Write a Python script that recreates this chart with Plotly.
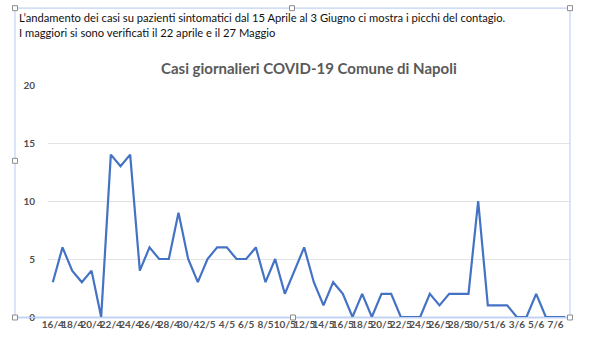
import plotly.graph_objects as go

dates = ["16/4","17/4","18/4","19/4","20/4","21/4","22/4","23/4","24/4","25/4","26/4","27/4","28/4","29/4","30/4",
         "1/5","2/5","3/5","4/5","5/5","6/5","7/5","8/5","9/5","10/5","11/5","12/5","13/5","14/5","15/5","16/5",
         "17/5","18/5","19/5","20/5","21/5","22/5","23/5","24/5","25/5","26/5","27/5","28/5","29/5","30/5","31/5",
         "1/6","2/6","3/6","4/6","5/6","6/6","7/6","8/6"]
cases = [3,6,4,3,4,0,14,13,14,4,6,5,5,9,5,
         3,5,6,6,5,5,6,3,5,2,4,6,3,1,3,2,
         0,2,0,2,2,0,0,0,2,1,2,2,2,10,1,
         1,1,0,0,2,0,0,0]
tick_labels = dates[::2]
y_ticks = [0, 5, 10, 15, 20]

W, H = 600, 356
L, R, T, B = 48, 570, 85, 317.5

def px(x):
    return (x - L) / (R - L)

def py(y):
    return (B - y) / (B - T)

fig = go.Figure()
fig.add_trace(go.Scatter(x=dates, y=cases, mode="lines",
                         line=dict(color="#4472C4", width=2.2), hoverinfo="x+y"))

shapes = []
frame_col = "#c3d3f3"
shapes.append(dict(type="rect", xref="paper", yref="paper", x0=px(15), x1=px(570), y0=py(318), y1=py(8),
                   line=dict(color=frame_col, width=1.2), layer="above"))
shapes.append(dict(type="line", xref="paper", yref="paper", x0=px(18), x1=px(570), y0=py(318), y1=py(318),
                   line=dict(color=frame_col, width=2), layer="below"))
for hx, hy in [(15, 8), (292, 8), (570, 8), (15, 161), (15, 318), (293, 318), (570, 318)]:
    shapes.append(dict(type="rect", xref="paper", yref="paper",
                       x0=px(hx - 2.5), x1=px(hx + 2.5), y0=py(hy + 2.5), y1=py(hy - 2.5),
                       line=dict(color="#8c8c8c", width=1), fillcolor="white", layer="above"))

annotations = [
    dict(xref="paper", yref="paper", x=px(17), y=py(9), xanchor="left", yanchor="top", showarrow=False, align="left",
         text="L’andamento dei casi su pazienti sintomatici dal 15 Aprile al 3 Giugno ci mostra i picchi del contagio.<br>"
              "I maggiori si sono verificati il 22 aprile e il 27 Maggio",
         font=dict(family="Lato", size=11.2, color="#111111")),
    dict(xref="paper", yref="paper", x=px(309), y=py(68), xanchor="center", yanchor="middle", showarrow=False,
         text="<b>Casi giornalieri COVID-19 Comune di Napoli</b>",
         font=dict(family="Lato", size=15, color="#595959")),
]

fig.update_layout(
    width=W, height=H, margin=dict(l=L, r=W - R, t=T, b=H - B),
    paper_bgcolor="white", plot_bgcolor="white", showlegend=False,
    shapes=shapes, annotations=annotations,
    xaxis=dict(type="category", categoryorder="array", categoryarray=dates,
               tickmode="array", tickvals=tick_labels, ticktext=["<b>%s</b>" % t for t in tick_labels],
               tickangle=0, showgrid=False, zeroline=False, showline=False, ticks="",
               tickfont=dict(family="Lato", size=10, color="#505050"),
               range=[-0.5, len(dates) - 0.5]),
    yaxis=dict(range=[0, 20], tickvals=y_ticks, ticktext=["<b>%d</b>" % v for v in y_ticks],
               showgrid=True, gridcolor="#e3e3e3", gridwidth=1, zeroline=False, showline=False, ticks="",
               tickfont=dict(family="Lato", size=10, color="#505050"), ticklabelstandoff=12),
)

fig.write_html("out.html", config={"displayModeBar": False},
               post_script="document.body.style.margin='0';")
